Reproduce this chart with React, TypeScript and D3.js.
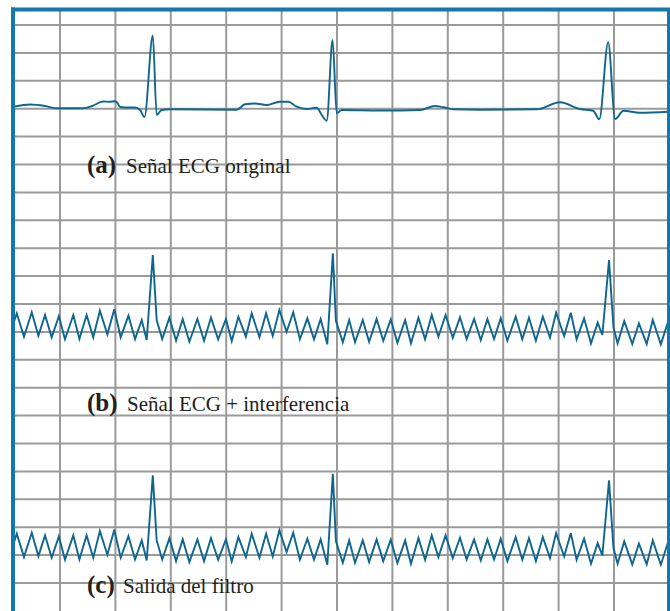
import React from "react";
import * as d3 from "d3";

// ---- Data (time in ms, amplitude in mV) ----
const ecgTimeMs = [34, 92, 146, 189, 283, 316, 355, 377, 399, 406, 417, 435, 471, 489, 505, 535, 549, 567, 597, 838, 868, 904, 946, 994, 1024, 1055, 1091, 1127, 1145, 1163, 1184, 1199, 1217, 1355, 1500, 1554, 1584, 1620, 1716, 1921, 2005, 2077, 2125, 2147, 2179, 2204, 2234, 2294, 2396];
const ecgMv = [0.036, 0.075, 0.048, 0.007, 0.007, 0.048, 0.129, 0.124, 0.133, 0.111, 0.03, 0.022, 0.022, -0.023, -0.149, 1.312, -0.113, -0.023, -0.011, -0.018, 0.079, 0.093, 0.066, 0.125, 0.125, 0.036, -0.005, 0.018, -0.113, -0.215, 1.231, -0.082, -0.023, -0.032, -0.023, 0.048, 0.025, -0.011, -0.018, -0.011, 0.115, -0.005, -0.036, -0.19, 1.19, -0.185, -0.036, -0.072, -0.054];

const noisyTimeMs = [34, 44, 70, 98, 122, 146, 170, 196, 218, 248, 270, 296, 320, 344, 371, 396, 419, 447, 471, 495, 513, 535, 549, 569, 595, 619, 643, 667, 696, 720, 745, 771, 799, 820, 844, 871, 892, 920, 944, 968, 992, 1018, 1042, 1066, 1093, 1117, 1141, 1165, 1185, 1196, 1221, 1244, 1265, 1293, 1316, 1343, 1367, 1394, 1418, 1446, 1467, 1494, 1518, 1542, 1566, 1592, 1618, 1644, 1668, 1695, 1719, 1743, 1767, 1791, 1815, 1845, 1869, 1893, 1918, 1943, 1969, 1991, 2020, 2044, 2065, 2092, 2117, 2141, 2158, 2182, 2198, 2213, 2237, 2266, 2290, 2318, 2340, 2369, 2396];
const noisyMv = [0.082, 0.233, -0.186, 0.251, -0.168, 0.203, -0.197, 0.185, -0.233, 0.203, -0.228, 0.203, -0.197, 0.28, -0.143, 0.305, -0.197, 0.19, -0.228, 0.113, -0.246, 1.278, 0.113, -0.228, 0.154, -0.258, 0.131, -0.276, 0.131, -0.258, 0.154, -0.233, 0.131, -0.263, 0.172, -0.186, 0.233, -0.197, 0.233, -0.174, 0.292, -0.097, 0.251, -0.233, 0.143, -0.233, 0.131, -0.323, 1.308, 0.1, -0.287, 0.113, -0.287, 0.113, -0.276, 0.131, -0.258, 0.125, -0.294, 0.113, -0.305, 0.154, -0.233, 0.203, -0.186, 0.203, -0.204, 0.161, -0.228, 0.131, -0.246, 0.131, -0.228, 0.143, -0.258, 0.172, -0.233, 0.154, -0.258, 0.172, -0.204, 0.244, -0.174, 0.244, -0.233, 0.143, -0.305, 0.065, -0.156, 1.188, -0.018, -0.305, 0.095, -0.317, 0.054, -0.317, 0.113, -0.323, 0.095];

const panelLetters = ["(a)", "(b)", "(c)"];
const panelTitles = ["Señal ECG original", "Señal ECG + interferencia", "Salida del filtro"];
const gridTimesMs = d3.range(200, 2201, 200);
const gridRows = d3.range(0, 21);

const W = 670;
const H = 611;
const TRACE = "#0d6690";
const BORDER = "#1379ad";
const GRID = "#9a9a9a";

export default function App() {
  const x = d3.scaleLinear().domain([200, 2200]).range([60, 614]);
  const row = d3.scaleLinear().domain([0, 20]).range([25, 583]);
  const left = 13;
  const right = 668.5;
  const top = 9.5;

  const ecg = ecgTimeMs.map((t, i) => ({ t, v: ecgMv[i] }));
  const noisy = noisyTimeMs.map((t, i) => ({ t, v: noisyMv[i] }));
  const panels = [
    { base: 3, data: ecg, labelY: 173, titleX: 126 },
    { base: 10.8, data: noisy, labelY: 411, titleX: 127 },
    { base: 18.7, data: noisy, labelY: 593, titleX: 123 },
  ];

  return (
    <svg
      width={W}
      height={H}
      style={{ position: "absolute", left: 0, top: 0, display: "block", background: "#fff" }}
    >
      <defs>
        <clipPath id="plotClip">
          <rect x={left} y={top} width={right - left} height={H - top} />
        </clipPath>
      </defs>
      <rect x={0} y={0} width={W} height={H} fill="#fff" />
      <g>
        {gridTimesMs.map((t) => (
          <line key={"v" + t} x1={x(t)} x2={x(t)} y1={top} y2={H} stroke={GRID} strokeWidth={2} />
        ))}
        {gridRows.map((r) => (
          <line key={"h" + r} x1={left} x2={right} y1={row(r)} y2={row(r)} stroke={GRID} strokeWidth={2} />
        ))}
      </g>
      <g clipPath="url(#plotClip)">
        {panels.map((p, i) => {
          const y = d3.scaleLinear().domain([0, 1]).range([row(p.base), row(p.base - 2)]);
          const line = d3
            .line<{ t: number; v: number }>()
            .x((d) => x(d.t))
            .y((d) => y(d.v))
            .curve(i === 0 ? d3.curveMonotoneX : d3.curveLinear);
          return (
            <path
              key={"p" + i}
              d={line(p.data) || ""}
              fill="none"
              stroke={TRACE}
              strokeWidth={1.9}
              strokeLinejoin="miter"
            />
          );
        })}
      </g>
      {panels.map((p, i) => (
        <g key={"l" + i} fill="#231f20" fontFamily="'Liberation Serif', 'Times New Roman', serif">
          <text x={87} y={p.labelY} fontSize={25} fontWeight="bold">
            {panelLetters[i]}
          </text>
          <text x={p.titleX} y={p.labelY} fontSize={21}>
            {panelTitles[i]}
          </text>
        </g>
      ))}
      {/* blue frame */}
      <line x1={left} x2={left} y1={top - 2} y2={H} stroke={BORDER} strokeWidth={4} />
      <line x1={left - 2} x2={W} y1={top} y2={top} stroke={BORDER} strokeWidth={4} />
      <line x1={right} x2={right} y1={top} y2={H} stroke={BORDER} strokeWidth={3} />
    </svg>
  );
}
